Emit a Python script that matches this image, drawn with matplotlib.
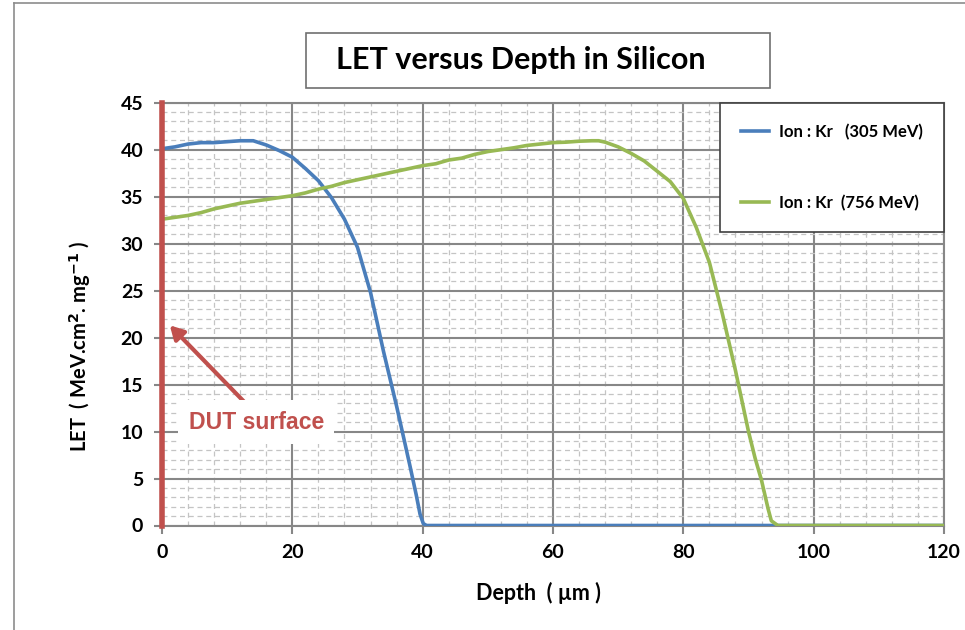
import matplotlib
matplotlib.use("Agg")
import matplotlib.pyplot as plt
from matplotlib.lines import Line2D
from matplotlib.patches import Rectangle
from matplotlib.ticker import MultipleLocator

plt.rcParams["font.family"] = ["Lato", "DejaVu Sans"]

# -----------------------------
# Data
# -----------------------------
depth_305 = [0, 2, 4, 6, 8, 10, 12, 14, 16, 18, 20, 22, 24, 26, 28, 30,
             32, 34, 36, 38, 39, 39.6, 40.1, 40.6, 120]
let_305 = [40.1, 40.3, 40.6, 40.75, 40.75, 40.85, 40.95, 40.95, 40.5, 39.9,
           39.2, 38.0, 36.7, 34.9, 32.6, 29.6, 24.8, 18.5, 12.7, 6.5, 3.3,
           1.2, 0.2, 0.0, 0.0]

depth_756 = [0, 2, 4, 6, 8, 10, 12, 14, 16, 18, 20, 22, 24, 26, 28, 30, 32,
             34, 36, 38, 40, 42, 44, 46, 48, 50, 52, 54, 56, 58, 60, 62, 64,
             66, 67, 68, 70, 72, 74, 76, 78, 80, 82, 84, 86, 88, 90, 91, 92,
             93, 93.5, 94.5, 120]
let_756 = [32.6, 32.8, 33.0, 33.3, 33.7, 34.0, 34.3, 34.5, 34.7, 34.9, 35.1,
           35.4, 35.8, 36.1, 36.5, 36.8, 37.1, 37.4, 37.7, 38.0, 38.3, 38.5,
           38.9, 39.1, 39.5, 39.8, 40.0, 40.2, 40.45, 40.6, 40.75, 40.8, 40.9,
           40.95, 40.95, 40.8, 40.3, 39.6, 38.8, 37.7, 36.6, 34.8, 31.7, 28.0,
           22.5, 16.5, 10.0, 7.2, 4.8, 1.8, 0.5, 0.0, 0.0]

labels = ["Ion : Kr   (305 MeV)", "Ion : Kr  (756 MeV)"]
colors = ["#4a7ebb", "#98b954"]
x_ticks = [0, 20, 40, 60, 80, 100, 120]
y_ticks = [0, 5, 10, 15, 20, 25, 30, 35, 40, 45]

red = "#c0504d"
grid_major = "#878787"
grid_minor = "#c4c4c4"

# -----------------------------
# Figure
# -----------------------------
fig = plt.figure(figsize=(9.65, 6.3), dpi=100)
ax = fig.add_axes([162 / 965, 1 - 525.5 / 630, (944 - 162) / 965, (525.5 - 102.7) / 630])

ax.plot(depth_305, let_305, color=colors[0], lw=2.6, label=labels[0], zorder=4)
ax.plot(depth_756, let_756, color=colors[1], lw=2.6, label=labels[1], zorder=4)

ax.set_xlim(0, 120)
ax.set_ylim(0, 45)
ax.set_xticks(x_ticks)
ax.set_yticks(y_ticks)
ax.xaxis.set_minor_locator(MultipleLocator(4))
ax.yaxis.set_minor_locator(MultipleLocator(1))

ax.set_axisbelow(True)
ax.grid(which="major", color=grid_major, lw=1.5)
ax.grid(which="minor", color=grid_minor, lw=0.9, ls=(0, (4, 3)))

for s in ax.spines.values():
    s.set_color(grid_major)
    s.set_linewidth(1.5)

ax.tick_params(which="major", direction="out", length=5.5, width=1.5,
               color=grid_major, labelsize=14, pad=8)
ax.tick_params(which="minor", length=0)
for lab in ax.get_xticklabels() + ax.get_yticklabels():
    lab.set_fontweight("bold")

# DUT surface line + arrow
ax.plot([0, 0], [0, 45], color=red, lw=4, clip_on=False, zorder=5)
ax.annotate("", xy=(1.2, 21.3), xytext=(12.7, 13.1),
            arrowprops=dict(arrowstyle="-|>,head_length=0.8,head_width=0.45",
                            color=red, lw=3, shrinkA=0, shrinkB=0), zorder=6)
ax.text(4.1, 11.0, "DUT surface", color=red, fontsize=16.6, fontweight="bold",
        family="Liberation Sans", va="center", ha="left", zorder=6,
        bbox=dict(boxstyle="square,pad=0.45", fc="white", ec="none"))

# legend
leg = ax.legend(loc="upper right", bbox_to_anchor=(1, 1), borderaxespad=0,
                fancybox=False, framealpha=1, edgecolor="#404040",
                prop=dict(size=12, weight="bold"), handlelength=1.7,
                handletextpad=0.6, labelspacing=3.3, borderpad=1.25)
leg.get_frame().set_linewidth(1.2)

# axis labels
fig.text(538 / 965, 1 - 593 / 630, "Depth  ( µm )", ha="center", va="center",
         fontsize=15.5, fontweight="bold")
fig.text(80 / 965, 1 - 346 / 630, "LET  ( MeV.cm$^{\\mathbf{2}}$. mg$^{\\mathbf{-1}}$ )",
         ha="center", va="center", rotation=90, fontsize=14.5, fontweight="bold")

# title box
fig.add_artist(Rectangle((305.7 / 965, 1 - 88.3 / 630), (770 - 305.7) / 965, 55 / 630,
                         transform=fig.transFigure, fc="white", ec="#707070", lw=1.2))
fig.text(521 / 965, 1 - 60 / 630, "LET versus Depth in Silicon", ha="center",
         va="center", fontsize=22, fontweight="bold")

# outer frame (left + top edges)
fig.add_artist(Line2D([14 / 965, 14 / 965], [0, 1 - 3 / 630], transform=fig.transFigure,
                      color="#8c8c8c", lw=1.2))
fig.add_artist(Line2D([14 / 965, 1], [1 - 3 / 630, 1 - 3 / 630], transform=fig.transFigure,
                      color="#8c8c8c", lw=1.2))

fig.savefig("out.png", dpi=100)
